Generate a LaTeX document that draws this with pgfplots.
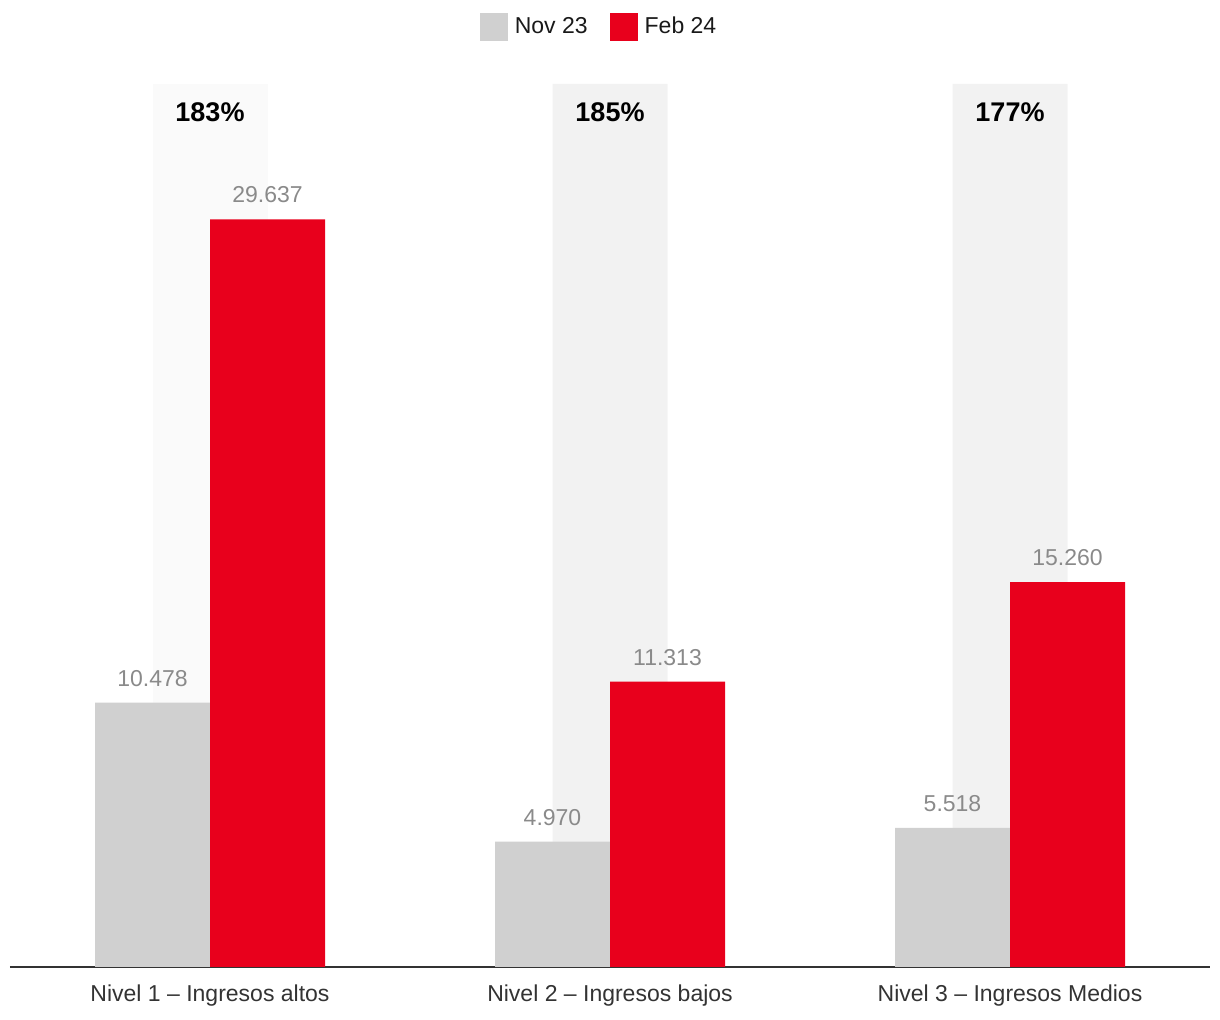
\documentclass[border=0pt]{standalone}
\usepackage{pgfplots}
\pgfplotsset{compat=1.18}
\usepackage{fontspec}
\setmainfont{Liberation Sans}
\definecolor{barred}{HTML}{E8001C}
\definecolor{bargray}{HTML}{D0D0D0}
\definecolor{bandA}{HTML}{FAFAFA}
\definecolor{bandB}{HTML}{F2F2F2}
\definecolor{valgray}{HTML}{8A8A8A}
\definecolor{ticktxt}{HTML}{333333}
\begin{document}
\begin{tikzpicture}
\useasboundingbox (-5pt,-26.5pt) rectangle (605pt,483.5pt);
\begin{axis}[
  scale only axis, width=600pt, height=441.5pt,
  xmin=-0.5, xmax=2.5, ymin=0, ymax=35000,
  axis x line=bottom, axis y line=none,
  x axis line style={draw=ticktxt, line width=1pt, -},
  xtick={0,1,2},
  xticklabels={Nivel 1 – Ingresos altos, Nivel 2 – Ingresos bajos, Nivel 3 – Ingresos Medios},
  major tick length=0pt,
  xticklabel style={font=\fontsize{11.5}{13}\selectfont, text=ticktxt, yshift=-5.5pt},
  clip=false,
  legend style={at={(0.4917,1.0646)}, anchor=center, draw=none, fill=none,
    legend columns=2, font=\fontsize{11.5}{13}\selectfont, text=black!90,
    /tikz/every even column/.append style={column sep=9pt},
    /tikz/every odd column/.append style={column sep=1.5pt}},
  legend image code/.code={\fill[#1] (0pt,-7pt) rectangle (14pt,7pt);},
  every axis legend/.append style={inner sep=0pt},
]
% background bands
\addplot[ybar, bar width=0.2875, bar shift=0, fill=bandA, draw=none, forget plot,
  point meta=explicit symbolic, nodes near coords,
  nodes near coords style={anchor=center, yshift=-14pt, font=\bfseries\fontsize{13.5}{15}\selectfont, text=black}]
  coordinates {(0,35000) [183\%]};
\addplot[ybar, bar width=0.2875, bar shift=0, fill=bandB, draw=none, forget plot,
  point meta=explicit symbolic, nodes near coords,
  nodes near coords style={anchor=center, yshift=-14pt, font=\bfseries\fontsize{13.5}{15}\selectfont, text=black}]
  coordinates {(1,35000) [185\%] (2,35000) [177\%]};
% data
\addplot[ybar, bar width=0.2875, bar shift=-0.14375, fill=bargray, draw=none,
  point meta=explicit symbolic, nodes near coords,
  nodes near coords style={anchor=south, yshift=4.5pt, xshift=-28.75pt, font=\fontsize{11.5}{13}\selectfont, text=valgray}]
  coordinates {(0,10478) [10.478] (1,4970) [4.970] (2,5518) [5.518]};
\addlegendentry{Nov 23}
\addplot[ybar, bar width=0.2875, bar shift=0.14375, fill=barred, draw=none,
  point meta=explicit symbolic, nodes near coords,
  nodes near coords style={anchor=south, yshift=4.5pt, xshift=28.75pt, font=\fontsize{11.5}{13}\selectfont, text=valgray}]
  coordinates {(0,29637) [29.637] (1,11313) [11.313] (2,15260) [15.260]};
\addlegendentry{Feb 24}
\end{axis}
\end{tikzpicture}
\end{document}
